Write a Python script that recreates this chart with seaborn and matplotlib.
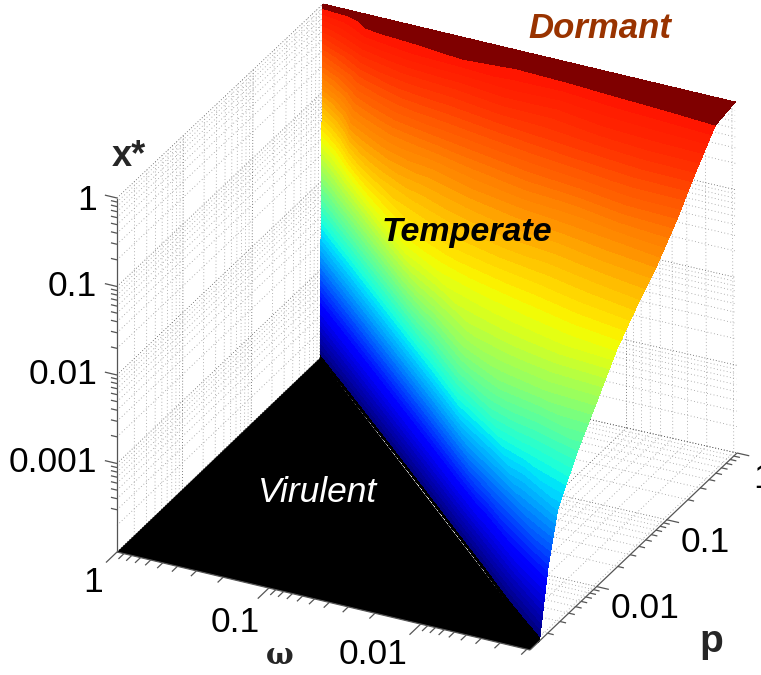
import numpy as np
import seaborn as sns
import matplotlib
matplotlib.use("Agg")
import matplotlib.pyplot as plt
from matplotlib.colors import ListedColormap, BoundaryNorm

sns.set_theme(style="white")
plt.rcParams['font.family'] = ['Liberation Sans', 'DejaVu Sans']

# omega of each surface row, and the p where the surface leaves the floor on that row
omega = [1, 0.457, 0.209, 0.0955, 0.0437, 0.02, 0.0091, 0.0042, 0.0019]
p_onset = [1, 0.443, 0.196, 0.0867, 0.0384, 0.017, 0.0075, 0.0033, 0.00147]
# position between p_onset (0) and p = 1 (1) in log p, one per column
p_frac = [0, .005, .02, .05, .1, .2, .3, .4, .5, .6, .7, .8, .9, 1]

# log10(x*), one list per omega
logx_w0 = [-4, -3.6, -3, -2.5, -2, -1.5, -1.2, -.9, -.6, -.4, -.3, -.2, -.1, 0]
logx_w1 = [-4, -1.35, -1.2, -1, -.92, -.77, -.62, -.47, -.3, -.1, -.03, -.01, -.005, 0]
logx_w2 = [-4, -1.6, -1.5, -1.4, -1.22, -1, -.83, -.65, -.48, -.33, -.1, -.03, -.01, 0]
logx_w3 = [-4, -2, -1.57, -1.48, -1.38, -1.24, -1.09, -.94, -.7, -.5, -.32, -.05, -.02, 0]
logx_w4 = [-4, -2.55, -2.2, -1.85, -1.57, -1.36, -1.2, -1.05, -.86, -.62, -.38, -.15, -.02, 0]
logx_w5 = [-4, -2.45, -2.2, -1.95, -1.75, -1.55, -1.35, -1.15, -.98, -.72, -.46, -.27, -.03, 0]
logx_w6 = [-4, -3.7, -3, -2.3, -2, -1.7, -1.5, -1.3, -1.1, -.87, -.53, -.26, -.04, 0]
logx_w7 = [-4, -3.9, -3.45, -2.9, -2.47, -1.95, -1.63, -1.4, -1.18, -.95, -.6, -.3, -.05, 0]
logx_w8 = [-4, -4.05, -3.75, -3.25, -2.7, -2.26, -1.9, -1.53, -1.26, -1.02, -.72, -.37, -.05, 0]

x_labels = ["1", "0.1", "0.01", "0.001"]
w_labels = ["1", "0.1", "0.01"]
p_labels = ["1", "0.1", "0.01"]

LOG_W_MIN = -2.72
LOG_P_MIN = -2.95
LOG_X_MIN = -4.0

# pixel corners of the plot box, floor then top
C_L = np.array([117, 552.]); C_F = np.array([530, 650.]); C_B = np.array([320, 358.]); C_R = np.array([737, 453.])
T_L = np.array([117, 198.]); T_F = np.array([529, 296.]); T_B = np.array([323, 4.]); T_R = np.array([735, 102.])


def project(log_w, log_p, log_x):
    # box coordinates to picture pixels
    u = np.asarray(log_w, float) / LOG_W_MIN
    v = 1 - np.asarray(log_p, float) / LOG_P_MIN
    f = (np.asarray(log_x, float) - LOG_X_MIN) / -LOG_X_MIN
    out = []
    for i in (0, 1):
        low = (1-u)*(1-v)*C_L[i] + u*(1-v)*C_F[i] + (1-u)*v*C_B[i] + u*v*C_R[i]
        top = (1-u)*(1-v)*T_L[i] + u*(1-v)*T_F[i] + (1-u)*v*T_B[i] + u*v*T_R[i]
        out.append(low*(1-f) + top*f)
    return out


def log_ticks(lo):
    major, minor = [], []
    for d in range(-4, 0):
        for m in range(1, 10):
            t = d + np.log10(m)
            if t >= lo - 1e-9:
                (major if m == 1 else minor).append(t)
    major.append(0.)
    return major, minor


fig = plt.figure(figsize=(7.61, 6.75), dpi=100)
ax = fig.add_axes([0, 0, 1, 1])
ax.set_xlim(0, 761)
ax.set_ylim(675, 0)
ax.axis("off")


def seg(a, b, **kw):
    sx, sy = project([a[0], b[0]], [a[1], b[1]], [a[2], b[2]])
    ax.plot(sx, sy, **kw)


w_major, w_minor = log_ticks(LOG_W_MIN)
p_major, p_minor = log_ticks(LOG_P_MIN)
x_major, x_minor = log_ticks(LOG_X_MIN)

dot_major = dict(color="#555555", lw=0.6, ls=(0, (1, 2.5)), zorder=1)
dot_minor = dict(color="#999999", lw=0.6, ls=(0, (1, 3)), zorder=1)

# dotted grids on the left wall, back wall and floor
for ticks, style in ((p_major, dot_major), (p_minor, dot_minor)):
    for t in ticks:
        seg((0, t, LOG_X_MIN), (0, t, 0), **style)
        seg((0, t, LOG_X_MIN), (LOG_W_MIN, t, LOG_X_MIN), **style)
for ticks, style in ((w_major, dot_major), (w_minor, dot_minor)):
    for t in ticks:
        seg((t, 0, LOG_X_MIN), (t, 0, 0), **style)
        seg((t, 0, LOG_X_MIN), (t, LOG_P_MIN, LOG_X_MIN), **style)
for ticks, style in ((x_major, dot_major), (x_minor, dot_minor)):
    for t in ticks:
        seg((0, LOG_P_MIN, t), (0, 0, t), **style)
        seg((0, 0, t), (LOG_W_MIN, 0, t), **style)

# black floor of the virulent region
floor_x, floor_y = project([0, LOG_W_MIN, LOG_W_MIN, 0],
                           [LOG_P_MIN, LOG_P_MIN, np.log10(p_onset[-1]), 0],
                           [LOG_X_MIN] * 4)
ax.fill(floor_x, floor_y, color="black", lw=0, zorder=2)

# surface, flooded in bands like the original
logx = np.array([logx_w0, logx_w1, logx_w2, logx_w3, logx_w4, logx_w5, logx_w6, logx_w7, logx_w8])
logx = np.clip(logx, LOG_X_MIN, 0)
log_w = np.log10(omega)[:, None] * np.ones((1, len(p_frac)))
log_p = np.log10(p_onset)[:, None] * (1 - np.array(p_frac))[None, :]
sx, sy = project(log_w, log_p, logx)

levels = np.linspace(-3.95, -0.05, 61)
mids = (levels[:-1] + levels[1:]) / 2
jet = matplotlib.colormaps["jet"]
band_pos = np.interp(mids, [-3.95, -3.45, -2.52, -1.57, -1.0, -0.4, -0.05],
                     [0.0, 0.11, 0.36, 0.63, 0.75, 0.85, 0.89])
cmap = ListedColormap(sns.color_palette([jet(b) for b in band_pos]))
cmap.set_over("#7f0000")
cmap.set_under("black")
ax.contourf(sx, sy, logx, levels=levels, cmap=cmap, norm=BoundaryNorm(levels, cmap.N),
            extend="both", zorder=3)

# axis lines and ticks
axis_kw = dict(color="#555555", lw=0.9, zorder=4, solid_capstyle="butt")
seg((0, LOG_P_MIN, LOG_X_MIN), (LOG_W_MIN, LOG_P_MIN, LOG_X_MIN), **axis_kw)
seg((LOG_W_MIN, LOG_P_MIN, LOG_X_MIN), (LOG_W_MIN, 0, LOG_X_MIN), **axis_kw)
seg((0, LOG_P_MIN, LOG_X_MIN), (0, LOG_P_MIN, 0), **axis_kw)
for ticks, size in ((w_major, 0.16), (w_minor, 0.08)):
    for t in ticks:
        seg((t, LOG_P_MIN, LOG_X_MIN), (t, LOG_P_MIN - size, LOG_X_MIN), **axis_kw)
for ticks, size in ((p_major, 0.08), (p_minor, 0.04)):
    for t in ticks:
        seg((LOG_W_MIN, t, LOG_X_MIN), (LOG_W_MIN - size, t, LOG_X_MIN), **axis_kw)
for ticks, size in ((x_major, 0.08), (x_minor, 0.04)):
    for t in ticks[1:]:
        seg((0, LOG_P_MIN, t), (size, LOG_P_MIN, t), **axis_kw)

tick_font = dict(fontsize=25.5, color="black", va="center", zorder=6)
for lab, y in zip(x_labels, [200, 287, 375, 463]):
    ax.text(97, y, lab, ha="right", **tick_font)
for lab, pos in zip(w_labels, [(93, 583), (235, 622), (373, 655)]):
    ax.text(pos[0], pos[1], lab, ha="center", **tick_font)
for lab, pos in zip(p_labels, [(753, 478), (705, 543), (645, 608)]):
    ax.text(pos[0], pos[1], lab, ha="center" if lab != "1" else "left", **tick_font)

ax.text(112, 156, "x*", fontsize=26, fontweight="bold", ha="left", va="center", zorder=6)
ax.text(280, 655, "\u03c9", fontsize=21, fontweight="bold", family="DejaVu Serif", ha="center", va="center", zorder=6)
ax.text(711, 642, "p", fontsize=28, fontweight="bold", ha="center", va="center", zorder=6)

ax.text(600, 29, "Dormant", fontsize=25, fontweight="bold", style="italic", color="#993300",
        ha="center", va="center", zorder=6)
ax.text(467, 233, "Temperate", fontsize=24.5, fontweight="bold", style="italic", color="black",
        ha="center", va="center", zorder=6)
ax.text(318, 492, "Virulent", fontsize=25.5, style="italic", color="white",
        ha="center", va="center", zorder=6)

fig.savefig("out.png", dpi=100, facecolor="white")
